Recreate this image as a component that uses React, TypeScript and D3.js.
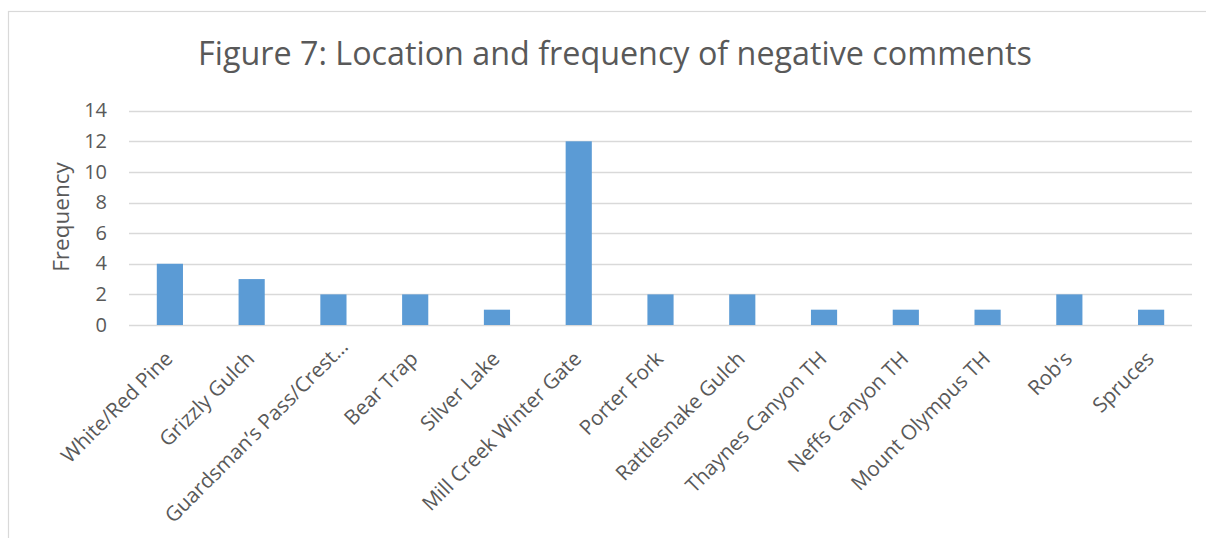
import React from "react";
import * as d3 from "d3";

const categories: string[] = [
  "White/Red Pine",
  "Grizzly Gulch",
  "Guardsman’s Pass/Crest…",
  "Bear Trap",
  "Silver Lake",
  "Mill Creek Winter Gate",
  "Porter Fork",
  "Rattlesnake Gulch",
  "Thaynes Canyon TH",
  "Neffs Canyon TH",
  "Mount Olympus TH",
  "Rob's",
  "Spruces",
];
const frequency: number[] = [4, 3, 2, 2, 1, 12, 2, 2, 1, 1, 1, 2, 1];
const yTicks: number[] = [0, 2, 4, 6, 8, 10, 12, 14];
const title = "Figure 7: Location and frequency of negative comments";
const yTitle = "Frequency";

const W = 1206;
const H = 538;
const FONT = "'Open Sans', Lato, sans-serif";
const TEXT = "#595959";
const GRID = "#d9d9d9";
const BAR = "#5b9bd5";

export default function App() {
  const x = d3
    .scaleBand<string>()
    .domain(categories)
    .range([129, 1192])
    .paddingInner(0.68)
    .paddingOuter(0.34);
  const y = d3.scaleLinear().domain([0, 14]).range([325, 110.7]);

  return (
    <svg
      width={W}
      height={H}
      style={{ position: "absolute", left: 0, top: 0, background: "#fff", fontVariantLigatures: "none" }}
      fontFamily={FONT}
    >
      <rect x={0} y={0} width={W} height={H} fill="#fff" />
      <rect x={8.5} y={11.5} width={1230} height={560} fill="none" stroke={GRID} strokeWidth={1.2} />
      <text x={615} y={65} textAnchor="middle" fontSize={32.3} fill={TEXT}>
        {title}
      </text>
      {yTicks.map((t) => (
        <g key={t}>
          <line x1={129} x2={1192} y1={Math.round(y(t)) + 0.5} y2={Math.round(y(t)) + 0.5} stroke={GRID} strokeWidth={1.3} />
          <text x={107} y={y(t)} dy="0.33em" textAnchor="end" fontSize={20} fill={TEXT}>
            {t}
          </text>
        </g>
      ))}
      <text
        transform={`translate(69,217) rotate(-90)`}
        textAnchor="middle"
        fontSize={22.5}
        fill={TEXT}
      >
        {yTitle}
      </text>
      {categories.map((c, i) => (
        <rect
          key={c}
          x={x(c)!}
          y={y(frequency[i])}
          width={x.bandwidth()}
          height={y(0) - y(frequency[i])}
          fill={BAR}
        />
      ))}
      {categories.map((c) => {
        const cx = x(c)! + x.bandwidth() / 2;
        // truncated labels keep the box of the full text, so they sit further along
        const shift = c.endsWith("…") ? 17 : 0;
        return (
          <text
            key={c}
            transform={`translate(${cx + 4},360) rotate(-45)`}
            x={shift}
            textAnchor="end"
            fontSize={20.6}
            fill={TEXT}
          >
            {c}
          </text>
        );
      })}
    </svg>
  );
}
